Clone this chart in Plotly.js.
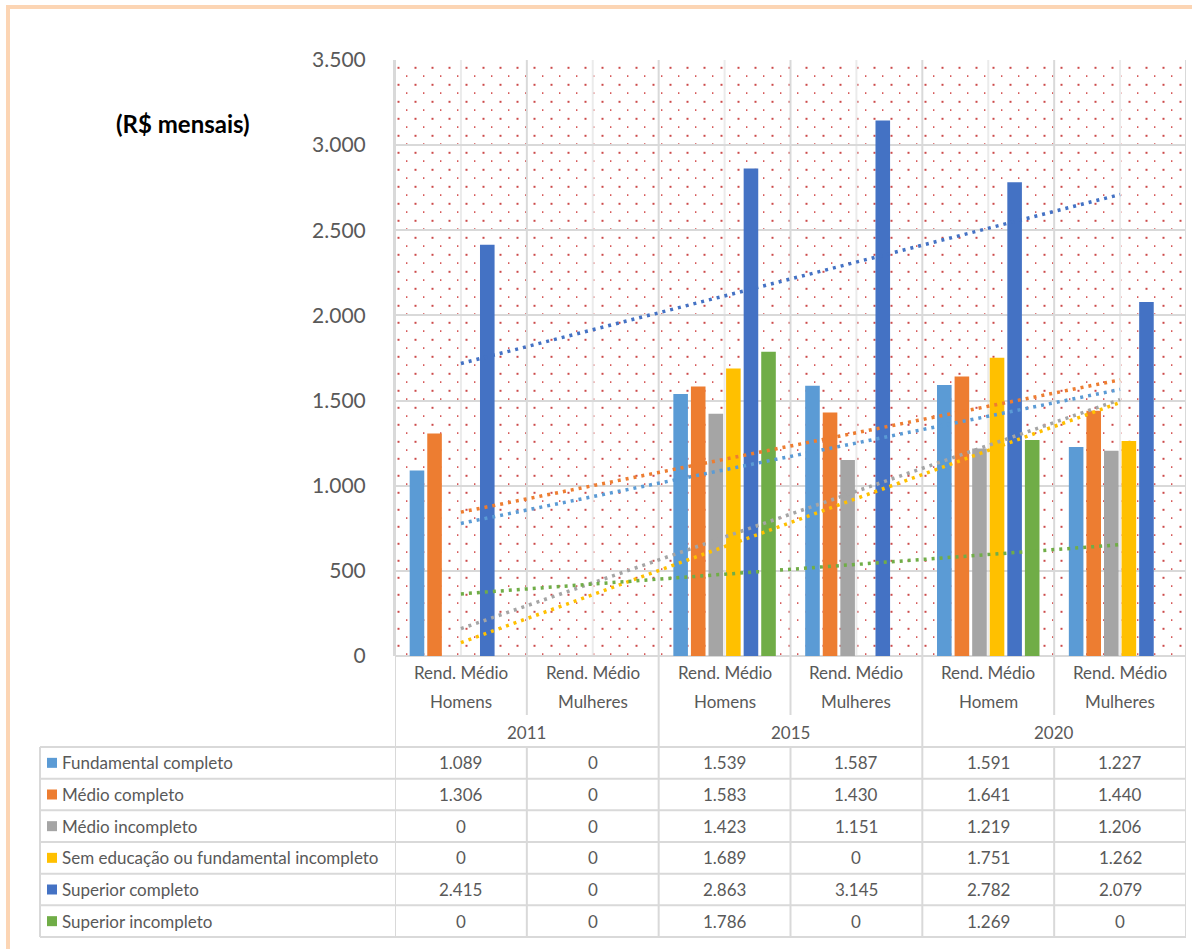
<!DOCTYPE html>
<html>
<head>
<meta charset="utf-8">
<script src="https://cdn.plot.ly/plotly-3.0.1.min.js"></script>
<style>
  html, body { margin: 0; padding: 0; background: #ffffff; overflow: hidden; }
  #chart { width: 1192px; height: 949px; }
  #frame { position: absolute; left: 6px; top: 5px; width: 3000px; height: 3000px;
           border-left: 4px solid #FCD5B4; border-top: 4px solid #FCD5B4; pointer-events: none; }
</style>
</head>
<body>
<div id="chart"></div>
<div id="frame"></div>
<script>
// ---------------- DATA ----------------
const years = ["2011", "2015", "2020"];
const catLabels = ["Rend. Médio Homens", "Rend. Médio Mulheres",
                   "Rend. Médio Homens", "Rend. Médio Mulheres",
                   "Rend. Médio Homem", "Rend. Médio Mulheres"];
const seriesNames = ["Fundamental completo", "Médio completo", "Médio incompleto",
                     "Sem educação ou fundamental incompleto", "Superior completo", "Superior incompleto"];
const fundamentalCompleto = [1089, 0, 1539, 1587, 1591, 1227];
const medioCompleto       = [1306, 0, 1583, 1430, 1641, 1440];
const medioIncompleto     = [0, 0, 1423, 1151, 1219, 1206];
const semEducacao         = [0, 0, 1689, 0, 1751, 1262];
const superiorCompleto    = [2415, 0, 2863, 3145, 2782, 2079];
const superiorIncompleto  = [0, 0, 1786, 0, 1269, 0];
const seriesValues = [fundamentalCompleto, medioCompleto, medioIncompleto,
                      semEducacao, superiorCompleto, superiorIncompleto];
const yTicks = [0, 500, 1000, 1500, 2000, 2500, 3000, 3500];

// ---------------- STYLE ----------------
const colors = ["#5B9BD5", "#ED7D31", "#A5A5A5", "#FFC000", "#4472C4", "#70AD47"];
const FONT = "Lato, 'Open Sans', sans-serif";
const TXT = "#595959";
const GRID = "#D9D9D9";
const W = 1192, H = 949;
const L = 395, R = 1186, T = 60, B = 656;
const FS = 17;

// category ids (unique) : each belongs to a year (two per year)
const cats = catLabels.map((lab, i) => years[Math.floor(i / 2)] + " " + lab + " #" + i);

const px = v => (v - L) / (R - L);        // pixel x -> paper
const py = v => (B - v) / (B - T);        // pixel y -> paper

function fmt(n) {
  return String(Math.round(n)).replace(/\B(?=(\d{3})+(?!\d))/g, ".");
}

// ---------------- TRACES ----------------
const traces = [];
seriesNames.forEach((name, s) => {
  traces.push({
    type: "bar", name: name, x: cats, y: seriesValues[s],
    marker: { color: colors[s], line: { width: 0 } },
    showlegend: false, hoverinfo: "name+y"
  });
});
// linear trend lines (least squares over category index)
seriesNames.forEach((name, s) => {
  const ys = seriesValues[s];
  const n = ys.length;
  const xs = ys.map((_, i) => i + 1);
  const mx = xs.reduce((a, b) => a + b, 0) / n;
  const my = ys.reduce((a, b) => a + b, 0) / n;
  let sxy = 0, sxx = 0;
  xs.forEach((x, i) => { sxy += (x - mx) * (ys[i] - my); sxx += (x - mx) * (x - mx); });
  const slope = sxy / sxx;
  const icpt = my - slope * mx;
  traces.push({
    type: "scatter", mode: "lines", name: "Linear (" + name + ")",
    x: [cats[0], cats[n - 1]],
    y: [icpt + slope * xs[0], icpt + slope * xs[n - 1]],
    line: { color: colors[s], width: 3.5, dash: "3px,5px" },
    showlegend: false, hoverinfo: "skip"
  });
});

// ---------------- BACKGROUND PATTERN ----------------
const pw = R - L, ph = B - T;
const svg = "<svg xmlns='http://www.w3.org/2000/svg' width='" + pw + "' height='" + ph + "'>" +
  "<defs><pattern id='p' x='0' y='0' width='17' height='17' patternUnits='userSpaceOnUse'>" +
  "<rect x='2.5' y='6.8' width='2' height='2' fill='#CC4A4A'/>" +
  "<rect x='11' y='15.2' width='1.4' height='2' fill='#D65A5A'/>" +
  "</pattern></defs><rect width='" + pw + "' height='" + ph + "' fill='url(#p)'/></svg>";

// ---------------- SHAPES (table grid + keys) ----------------
const shapes = [];
const rowTop = 747, rowBot = 937;
const nRows = seriesNames.length;
const rowH = (rowBot - rowTop) / nRows;
const tableLeft = 40;
const lineStyle = { color: GRID, width: 2 };

// vertical light lines at category centres (inside plot)
cats.forEach((c, i) => {
  shapes.push({ type: "line", xref: "x", yref: "paper", x0: i, x1: i, y0: 0, y1: 1,
                line: { color: "#EBEBEB", width: 2 }, layer: "below" });
});
// category boundaries
for (let i = 0; i <= cats.length; i++) {
  const xb = i - 0.5;
  const yearEdge = (i % 2 === 0);
  if (yearEdge) {
    shapes.push({ type: "line", xref: "x", yref: "paper", x0: xb, x1: xb, y0: py(rowBot), y1: 1, line: lineStyle, layer: "below" });
  } else {
    shapes.push({ type: "line", xref: "x", yref: "paper", x0: xb, x1: xb, y0: py(715), y1: 1, line: lineStyle, layer: "below" });
    shapes.push({ type: "line", xref: "x", yref: "paper", x0: xb, x1: xb, y0: py(rowBot), y1: py(rowTop), line: lineStyle, layer: "below" });
  }
}
// horizontal table lines
for (let r = 0; r <= nRows; r++) {
  const yy = rowTop + r * rowH;
  shapes.push({ type: "line", xref: "paper", yref: "paper", x0: px(tableLeft), x1: 1, y0: py(yy), y1: py(yy), line: lineStyle });
}
// left table border
shapes.push({ type: "line", xref: "paper", yref: "paper", x0: px(tableLeft), x1: px(tableLeft), y0: py(rowBot), y1: py(rowTop), line: lineStyle });
// legend keys
seriesNames.forEach((name, s) => {
  const cy = rowTop + (s + 0.5) * rowH;
  shapes.push({ type: "rect", xref: "paper", yref: "paper",
                x0: px(47), x1: px(57), y0: py(cy + 5), y1: py(cy - 5),
                fillcolor: colors[s], line: { width: 0 } });
});

// ---------------- ANNOTATIONS ----------------
const annotations = [];
annotations.push({ xref: "paper", yref: "paper", x: px(183), y: py(124), text: "<b>(R$ mensais)</b>",
                   showarrow: false, xanchor: "center", yanchor: "middle",
                   font: { family: FONT, size: 24, color: "#000000" } });
cats.forEach((c, i) => {
  const lab = catLabels[i];
  const k = lab.lastIndexOf(" ");
  annotations.push({ xref: "x", yref: "paper", x: i, y: py(672), text: lab.slice(0, k),
                     showarrow: false, xanchor: "center", yanchor: "middle",
                     font: { family: FONT, size: FS, color: TXT } });
  annotations.push({ xref: "x", yref: "paper", x: i, y: py(701), text: lab.slice(k + 1),
                     showarrow: false, xanchor: "center", yanchor: "middle",
                     font: { family: FONT, size: FS, color: TXT } });
});
years.forEach((yr, j) => {
  annotations.push({ xref: "x", yref: "paper", x: 2 * j + 0.5, y: py(732), text: yr,
                     showarrow: false, xanchor: "center", yanchor: "middle",
                     font: { family: FONT, size: FS, color: TXT } });
});
seriesNames.forEach((name, s) => {
  const cy = rowTop + (s + 0.5) * rowH;
  annotations.push({ xref: "paper", yref: "paper", x: px(60), y: py(cy), text: name,
                     showarrow: false, xanchor: "left", yanchor: "middle",
                     font: { family: FONT, size: FS, color: TXT } });
  seriesValues[s].forEach((v, i) => {
    annotations.push({ xref: "x", yref: "paper", x: i, y: py(cy), text: fmt(v),
                       showarrow: false, xanchor: "center", yanchor: "middle",
                       font: { family: FONT, size: FS, color: TXT } });
  });
});

// ---------------- LAYOUT ----------------
const layout = {
  width: W, height: H,
  margin: { l: L, r: W - R, t: T, b: H - B, pad: 0 },
  paper_bgcolor: "#ffffff",
  plot_bgcolor: "rgba(0,0,0,0)",
  separators: ",.",
  barmode: "group", bargap: 0.2, bargroupgap: 0.17,
  showlegend: false,
  font: { family: FONT, color: TXT },
  xaxis: { type: "category", categoryorder: "array", categoryarray: cats,
           range: [-0.5, cats.length - 0.5], showgrid: false, showticklabels: false,
           showline: false, zeroline: false, ticks: "", fixedrange: true },
  yaxis: { range: [0, 3500], tickvals: yTicks, tickformat: ",d",
           showgrid: true, gridcolor: GRID, gridwidth: 2,
           zeroline: true, zerolinecolor: GRID, zerolinewidth: 2,
           showline: true, linecolor: GRID, linewidth: 2,
           ticks: "", ticklabelstandoff: 23,
           tickfont: { family: FONT, size: 21, color: TXT }, fixedrange: true },
  images: [{ source: "data:image/svg+xml;charset=utf-8," + encodeURIComponent(svg),
             xref: "paper", yref: "paper", x: 0, y: 1, sizex: 1, sizey: 1,
             xanchor: "left", yanchor: "top", sizing: "stretch", layer: "below" }],
  shapes: shapes,
  annotations: annotations
};

Plotly.newPlot("chart", traces, layout, { displayModeBar: false, staticPlot: true });
</script>
</body>
</html>
